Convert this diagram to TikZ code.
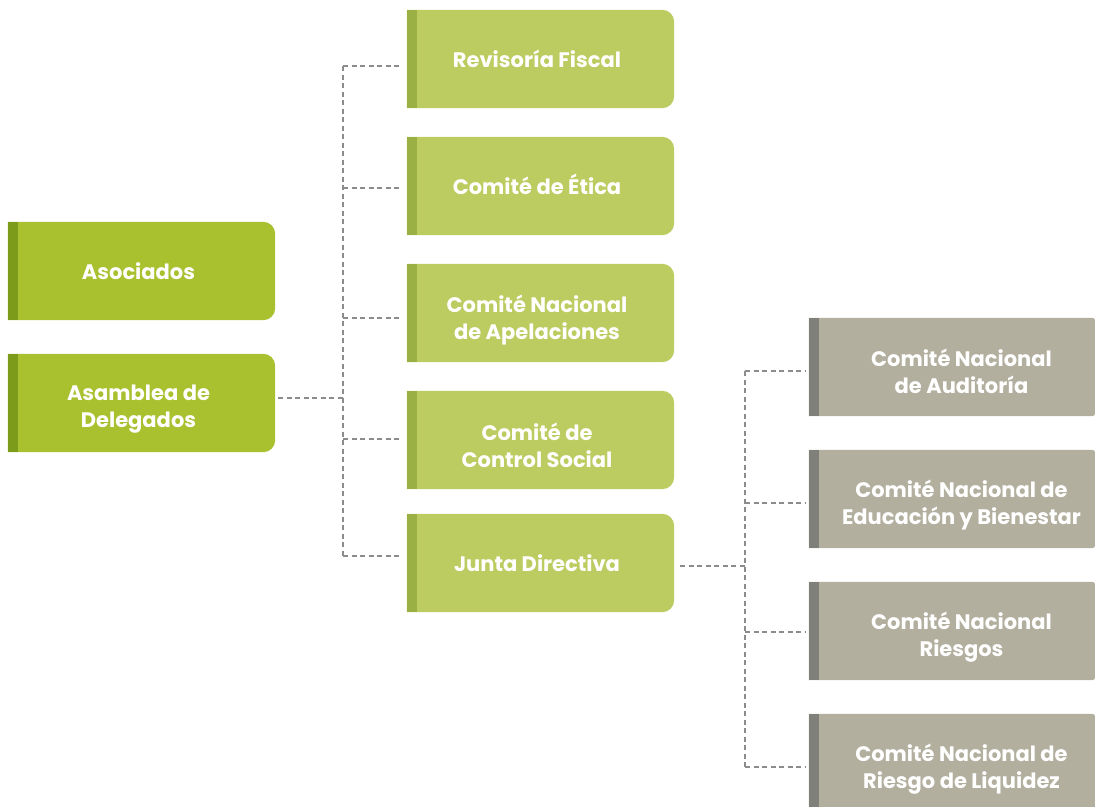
\documentclass[tikz,border=0pt]{standalone}
\usepackage{fontspec}
\setmainfont{Poppins}[BoldFont={* Bold}]
\definecolor{gA}{HTML}{A9C02F}
\definecolor{gAs}{HTML}{7C9B1B}
\definecolor{gB}{HTML}{BDCC60}
\definecolor{gBs}{HTML}{9AAF44}
\definecolor{gC}{HTML}{B3AF9F}
\definecolor{gCs}{HTML}{80807A}
\definecolor{dsh}{HTML}{8C8C8C}
\tikzset{
  orgbox/.style={inner sep=0pt, minimum height=98pt},
  greenbox/.style={orgbox, minimum width=267pt},
  graybox/.style={orgbox, minimum width=286pt},
  lbl/.style={inner sep=0pt, text=white, align=center,
    font=\bfseries\fontsize{21}{27}\selectfont},
  lbltwo/.style={lbl, yshift=-6pt},
  conn/.style={draw=dsh, line width=1.2pt, dash pattern=on 5pt off 3.5pt}
}
\newcommand\myboxbg[4]{%
  \fill[#2] (#1.north west) -- ([xshift=-#4]#1.north east)
     arc[start angle=90,end angle=0,radius=#4] -- ([yshift=#4]#1.south east)
     arc[start angle=0,end angle=-90,radius=#4] -- (#1.south west) -- cycle;
  \fill[#3] (#1.north west) rectangle ([xshift=10.5pt]#1.south west);}
\begin{document}
\begin{tikzpicture}[x=1pt,y=-1pt]
\useasboundingbox (0,0) rectangle (1095,806);
% boxes
\node[greenbox] (aso) at (141.5,271) {};
\node[greenbox] (asa) at (141.5,403) {};
\node[greenbox] (rev) at (540.5,59) {};
\node[greenbox] (eti) at (540.5,186) {};
\node[greenbox] (ape) at (540.5,313) {};
\node[greenbox] (con) at (540.5,440) {};
\node[greenbox] (jun) at (540.5,563) {};
\node[graybox] (aud) at (952,367) {};
\node[graybox] (edu) at (952,499) {};
\node[graybox] (rie) at (952,631) {};
\node[graybox] (liq) at (952,763) {};
\myboxbg{aso}{gA}{gAs}{12pt}
\myboxbg{asa}{gA}{gAs}{12pt}
\myboxbg{rev}{gB}{gBs}{12pt}
\myboxbg{eti}{gB}{gBs}{12pt}
\myboxbg{ape}{gB}{gBs}{12pt}
\myboxbg{con}{gB}{gBs}{12pt}
\myboxbg{jun}{gB}{gBs}{12pt}
\myboxbg{aud}{gC}{gCs}{3pt}
\myboxbg{edu}{gC}{gCs}{3pt}
\myboxbg{rie}{gC}{gCs}{3pt}
\myboxbg{liq}{gC}{gCs}{3pt}
% labels
\node[lbl] (asoT) at ([xshift=-3pt]aso.center) {Asociados};
\node[lbltwo] (asaT) at ([xshift=-3pt]asa.center) {Asamblea de\\Delegados};
\node[lbl] (revT) at ([xshift=-3.5pt]rev.center) {Revisoría Fiscal};
\node[lbl] (etiT) at ([xshift=-3.5pt,yshift=1.5pt]eti.center) {Comité de Ética};
\node[lbltwo] (apeT) at ([xshift=-3.5pt,yshift=-1pt]ape.center) {Comité Nacional\\de Apelaciones};
\node[lbltwo] (conT) at ([xshift=-3.5pt,yshift=1pt]con.center) {Comité de\\Control Social};
\node[lbl] (junT) at ([xshift=-3.5pt]jun.center) {Junta Directiva};
\node[lbltwo] (audT) at ([xshift=9.5pt,yshift=2pt]aud.center) {Comité Nacional\\de Auditoría};
\node[lbltwo] (eduT) at ([xshift=9.5pt]edu.center) {Comité Nacional de\\Educación y Bienestar};
\node[lbltwo] (rieT) at ([xshift=9.5pt]rie.center) {Comité Nacional\\Riesgos};
\node[lbltwo] (liqT) at ([xshift=9.5pt]liq.center) {Comité Nacional de\\Riesgo de Liquidez};
% trunks and connector end points
\coordinate (t1) at (343,398);
\coordinate (t2) at (745,566);
\coordinate (asaE) at ([xshift=3pt,yshift=5pt]asa.east);
\coordinate (revW) at ([xshift=-5pt,yshift=-7pt]rev.west);
\coordinate (etiW) at ([xshift=-5pt,yshift=-2pt]eti.west);
\coordinate (apeW) at ([xshift=-5pt,yshift=-5pt]ape.west);
\coordinate (conW) at ([xshift=-5pt,yshift=1pt]con.west);
\coordinate (junW) at ([xshift=-5pt,yshift=7pt]jun.west);
\coordinate (junE) at ([xshift=6pt,yshift=-3pt]jun.east);
\coordinate (audW) at ([xshift=-4pt,yshift=-4pt]aud.west);
\coordinate (eduW) at ([xshift=-4pt,yshift=-4pt]edu.west);
\coordinate (rieW) at ([xshift=-4pt,yshift=-1pt]rie.west);
\coordinate (liqW) at ([xshift=-4pt,yshift=-4pt]liq.west);
\draw[conn] (asaE) -- (t1);
\draw[conn] (t1 |- revW) -- (t1 |- junW);
\foreach \c in {revW,etiW,apeW,conW,junW} \draw[conn] (t1 |- \c) -- (\c);
\draw[conn] (junE) -- (t2);
\draw[conn] (t2 |- audW) -- (t2 |- liqW);
\foreach \c in {audW,eduW,rieW,liqW} \draw[conn] (t2 |- \c) -- (\c);
\end{tikzpicture}
\end{document}
